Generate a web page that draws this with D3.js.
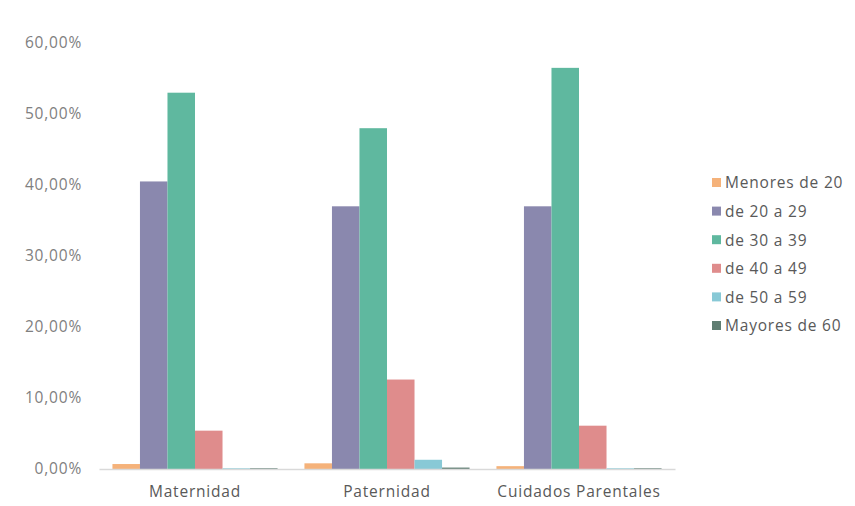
<!DOCTYPE html>
<html><head><meta charset="utf-8">
<script src="https://cdn.jsdelivr.net/npm/d3@7"></script>
<style>body{margin:0;background:#fff;} svg{display:block;}</style>
</head><body><svg id="c" width="855" height="506"></svg>
<script>
const categories = ["Maternidad", "Paternidad", "Cuidados Parentales"];
const seriesNames = ["Menores de 20", "de 20 a 29", "de 30 a 39", "de 40 a 49", "de 50 a 59", "Mayores de 60"];
const menores20 = [0.7, 0.8, 0.4];
const de20a29 = [40.5, 37.0, 37.0];
const de30a39 = [53.0, 48.0, 56.5];
const de40a49 = [5.4, 12.6, 6.1];
const de50a59 = [0.1, 1.3, 0.1];
const mayores60 = [0.1, 0.2, 0.1];
const yTicks = [0, 10, 20, 30, 40, 50, 60];
const colors = ["#f5b27a", "#8a88ae", "#5fb89f", "#df8c8c", "#88c9d6", "#5f7d72"];

const seriesValues = [menores20, de20a29, de30a39, de40a49, de50a59, mayores60];
const svg = d3.select("#c");
const font = "'Open Sans', sans-serif";
const y = d3.scaleLinear().domain([0, 60]).range([469, 43]);
const x0 = d3.scaleBand().domain(categories).range([99, 675]).paddingInner(0.14).paddingOuter(0.07);
const x1 = d3.scaleBand().domain(seriesNames).range([0, x0.bandwidth()]);

function styleText(sel, color) {
  sel.attr("font-family", font).attr("font-size", 15.5).attr("letter-spacing", "0.8px").attr("fill", color);
}

// y axis labels
const yAxis = d3.axisLeft(y).tickValues(yTicks).tickSize(0).tickPadding(0)
  .tickFormat(d => d.toFixed(2).replace(".", ",") + "%");
const gy = svg.append("g").attr("transform", "translate(82,0)").call(yAxis);
gy.select(".domain").remove();
styleText(gy.selectAll("text"), "#808080");

// bars
const groups = svg.append("g").selectAll("g").data(categories).join("g")
  .attr("transform", c => `translate(${x0(c)},0)`);
groups.selectAll("rect").data((c, ci) => seriesNames.map((s, si) => ({s, si, v: seriesValues[si][ci]})))
  .join("rect")
  .attr("x", d => x1(d.s)).attr("width", x1.bandwidth())
  .attr("y", d => y(d.v)).attr("height", d => y(0) - y(d.v))
  .attr("fill", d => colors[d.si]);

// x axis
const xAxis = d3.axisBottom(x0).tickSize(0).tickPadding(17);
const gx = svg.append("g").attr("transform", `translate(0,${y(0)})`).call(xAxis);
gx.select(".domain").attr("stroke", "#d9d9d9").attr("stroke-width", 1.5);
styleText(gx.selectAll("text"), "#595959");

// legend
const lg = svg.append("g").attr("transform", "translate(712,183)");
const li = lg.selectAll("g").data(seriesNames).join("g").attr("transform", (d, i) => `translate(0,${i * 28.6})`);
li.append("rect").attr("x", 0).attr("y", -5).attr("width", 9).attr("height", 9).attr("fill", (d, i) => colors[i]);
styleText(li.append("text").attr("x", 13).attr("y", 0).attr("dy", "0.35em").text(d => d), "#595959");
</script></body></html>
